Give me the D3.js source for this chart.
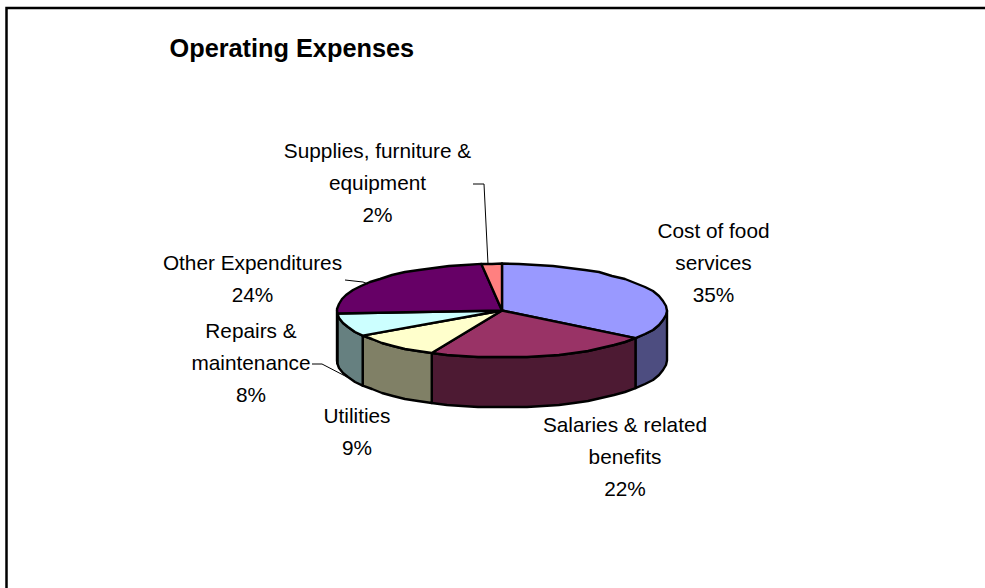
<!DOCTYPE html>
<html>
<head>
<meta charset="utf-8">
<script src="https://cdn.jsdelivr.net/npm/d3@7/dist/d3.min.js"></script>
<style>
  html, body { margin: 0; padding: 0; background: #fff; }
  svg { display: block; }
  text { font-family: "Liberation Sans", Arial, sans-serif; fill: #000; }
</style>
</head>
<body>
<svg id="chart" width="985" height="588"></svg>
<script>
// Operating expense shares, clockwise from twelve o'clock
const categories = ["Cost of food services", "Salaries & related benefits", "Utilities",
                    "Repairs & maintenance", "Other Expenditures", "Supplies, furniture & equipment"];
const values = [35, 22, 9, 8, 24, 2];
const topColors = ["#9999ff", "#993366", "#ffffcc", "#ccffff", "#660066", "#ff8080"];
const sideColors = ["#4d4d80", "#4d1a33", "#808066", "#668080", "#330033", "#804040"];
const labelLines = [
  ["Cost of food", "services", "35%"],
  ["Salaries & related", "benefits", "22%"],
  ["Utilities", "9%"],
  ["Repairs &", "maintenance", "8%"],
  ["Other Expenditures", "24%"],
  ["Supplies, furniture &", "equipment", "2%"]
];
const titleText = "Operating Expenses";

// Layout of the drawing
const pieBox = { cx: 502, cy: 310.5, rx: 165, ry: 47, depth: 50 };
const labelAnchors = [
  { x: 713.5, y: 238 }, { x: 625, y: 431.5 }, { x: 357, y: 423 },
  { x: 251, y: 338 }, { x: 252.5, y: 270 }, { x: 377.5, y: 158 }
];
const lineStep = 32;
const leaders = [
  [[473, 184], [484, 184], [488, 264]],
  [[345, 280], [363, 282], [368, 284]],
  [[312, 364], [322, 364], [347, 377]]
];

const svg = d3.select("#chart");

// Chart frame: only the top and left edges fall inside the window
svg.append("path")
  .attr("d", "M6.5,588V8H985")
  .attr("fill", "none").attr("stroke", "#000").attr("stroke-width", 2.5);

svg.append("text")
  .attr("x", 169.5).attr("y", 57)
  .attr("font-size", 25.3).attr("font-weight", "bold")
  .text(titleText);

// Flattened disc: unit circle coordinates mapped through two linear scales
const xScale = d3.scaleLinear().domain([-1, 1]).range([pieBox.cx - pieBox.rx, pieBox.cx + pieBox.rx]);
const yScale = d3.scaleLinear().domain([-1, 1]).range([pieBox.cy - pieBox.ry, pieBox.cy + pieBox.ry]);
const rim = (a, drop = 0) => [xScale(Math.sin(a)), yScale(-Math.cos(a)) + drop];

const slices = d3.pie().sort(null)(values);

// Rim points between two angles, on whole pixels so the edge has the chart's faceted look
function arcPoints(a0, a1, drop = 0) {
  const n = Math.max(1, Math.ceil((a1 - a0) / (Math.PI / 30)));
  return d3.range(n + 1).map(i => {
    const p = rim(a0 + (a1 - a0) * i / n, drop);
    return i === 0 || i === n ? p : [Math.round(p[0]), Math.round(p[1])];
  });
}
const toPath = d3.line();

const FRONT_START = Math.PI / 2, FRONT_END = 3 * Math.PI / 2;

// Outer wall: visible only on the near half of the disc
const walls = svg.append("g");
slices.forEach((s, i) => {
  const a0 = Math.max(s.startAngle, FRONT_START);
  const a1 = Math.min(s.endAngle, FRONT_END);
  if (a1 <= a0) return;
  const pts = arcPoints(a0, a1).concat(arcPoints(a0, a1, pieBox.depth).reverse());
  walls.append("path")
    .attr("d", toPath(pts) + "Z")
    .attr("fill", sideColors[i])
    .attr("stroke", "#000").attr("stroke-width", 2.4).attr("stroke-linejoin", "round");
});

// Top face
const tops = svg.append("g");
slices.forEach((s, i) => {
  const pts = [[xScale(0), yScale(0)]].concat(arcPoints(s.startAngle, s.endAngle));
  tops.append("path")
    .attr("d", toPath(pts) + "Z")
    .attr("fill", topColors[i])
    .attr("stroke", "#000").attr("stroke-width", 2.4).attr("stroke-linejoin", "round");
});

// Leader lines
svg.append("g").selectAll("path").data(leaders).join("path")
  .attr("d", d => toPath(d))
  .attr("fill", "none").attr("stroke", "#000").attr("stroke-width", 1);

// Category labels with their percentages
const labels = svg.append("g").attr("font-size", 20.8).attr("text-anchor", "middle");
labelLines.forEach((lines, i) => {
  const t = labels.append("text").attr("aria-label", categories[i]);
  lines.forEach((line, k) => {
    t.append("tspan")
      .attr("x", labelAnchors[i].x)
      .attr("y", labelAnchors[i].y + k * lineStep)
      .text(line);
  });
});
</script>
</body>
</html>
